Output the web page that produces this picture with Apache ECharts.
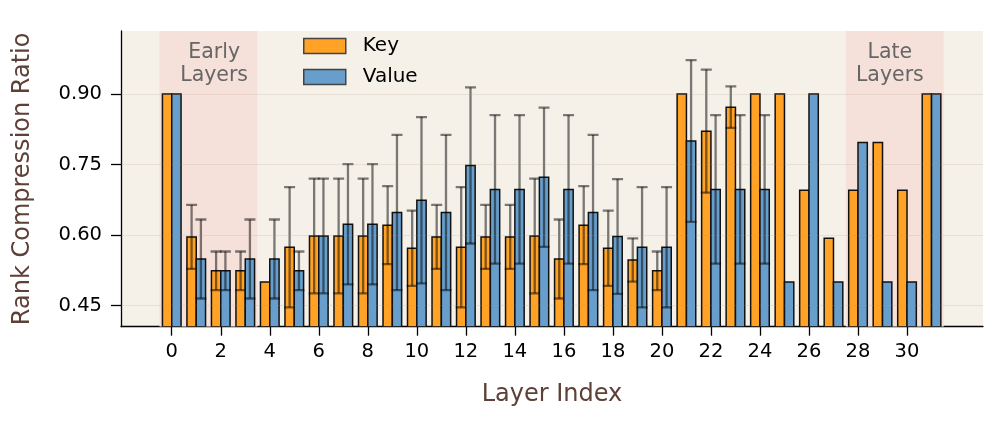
<!DOCTYPE html>
<html><head><meta charset="utf-8">
<script src="https://cdn.jsdelivr.net/npm/echarts@6/dist/echarts.min.js"></script>
<style>html,body{margin:0;padding:0;background:#fff}#c{width:996px;height:422px}</style>
</head><body><div id="c"></div>
<script>
// ---------------- data ----------------
const layers = [0,1,2,3,4,5,6,7,8,9,10,11,12,13,14,15,16,17,18,19,20,21,22,23,24,25,26,27,28,29,30,31];
const keyMean = [0.90,0.596,0.524,0.524,0.50,0.574,0.598,0.598,0.598,0.621,0.572,0.596,0.574,0.596,0.596,0.598,
                 0.549,0.621,0.572,0.547,0.524,0.90,0.821,0.872,0.90,0.90,0.695,0.593,0.695,0.797,0.695,0.90];
const keyStd  = [0,0.068,0.041,0.041,0,0.128,0.122,0.122,0.122,0.083,0.080,0.068,0.128,0.068,0.068,0.122,
                 0.084,0.083,0.080,0.046,0.041,0,0.131,0.044,0,0,0,0,0,0,0,0];
const valueMean = [0.90,0.549,0.524,0.549,0.549,0.524,0.598,0.623,0.623,0.648,0.674,0.648,0.748,0.697,0.697,0.723,
                   0.697,0.648,0.597,0.574,0.574,0.80,0.697,0.697,0.697,0.50,0.90,0.50,0.797,0.50,0.50,0.90];
const valueStd  = [0,0.084,0.041,0.084,0.084,0.041,0.122,0.128,0.128,0.165,0.177,0.165,0.166,0.158,0.158,0.148,
                   0.158,0.165,0.122,0.128,0.128,0.172,0.158,0.158,0.158,0,0,0,0,0,0,0];
const xTicks = [0,2,4,6,8,10,12,14,16,18,20,22,24,26,28,30];
const yTicks = [0.45,0.60,0.75,0.90];
const spanStart = [-0.5, 27.5];
const spanEnd   = [3.5, 31.5];
const spanLabels = ['Early\nLayers', 'Late\nLayers'];
const seriesNames = ['Key','Value'];

// ---------------- style / layout ----------------
const FONT = 'DejaVu Sans';
const X_MIN = -2.07, X_MAX = 33.1, Y_MIN = 0.405, Y_MAX = 1.034;
const BW = 0.38;
const KEY_COLOR = '#FFA226', VALUE_COLOR = '#679ECB';
const labelShift = [0.23, -0.2];

function barRender(side, color){
  return function(params, api){
    const x = api.value(0), m = api.value(1), s = api.value(2);
    const x0 = side < 0 ? x - BW : x;
    const p1 = api.coord([x0, m]);
    const p2 = api.coord([x0 + BW, Y_MIN]);
    const children = [{
      type:'rect',
      shape:{x:p1[0], y:p1[1], width:p2[0]-p1[0], height:p2[1]-p1[1]},
      style:{fill:color, stroke:'#111', lineWidth:1.5}
    }];
    if (s > 0){
      const cx = x0 + BW/2;
      const t = api.coord([cx, m + s]);
      const b = api.coord([cx, m - s]);
      const es = {stroke:'rgba(0,0,0,0.5)', lineWidth:2.3};
      children.push({type:'line', shape:{x1:t[0],y1:t[1],x2:b[0],y2:b[1]}, style:es});
      children.push({type:'line', shape:{x1:t[0]-5.5,y1:t[1],x2:t[0]+5.5,y2:t[1]}, style:es});
      children.push({type:'line', shape:{x1:b[0]-5.5,y1:b[1],x2:b[0]+5.5,y2:b[1]}, style:es});
    }
    return {type:'group', children};
  };
}

function spanRender(params, api){
  const i = params.dataIndex;
  const a = api.coord([api.value(0), Y_MAX]);
  const b = api.coord([api.value(1), Y_MIN]);
  const mid = api.coord([(api.value(0)+api.value(1))/2 + labelShift[i], Y_MAX]);
  return {type:'group', children:[
    {type:'rect', shape:{x:a[0], y:a[1], width:b[0]-a[0], height:b[1]-a[1]},
     style:{fill:'#f6e1da'}},
    {type:'text', x:mid[0], y:mid[1]+33.5,
     style:{text:spanLabels[i], font:'20.5px "DejaVu Sans"', fill:'#666', align:'center',
            verticalAlign:'middle', lineHeight:23}}
  ]};
}

const chart = echarts.init(document.getElementById('c'), null, {renderer:'canvas'});
chart.setOption({
  animation:false,
  backgroundColor:'#ffffff',
  textStyle:{fontFamily:FONT},
  grid:{left:121, right:13, top:31, bottom:95.3, show:true, backgroundColor:'#f5f0e8', borderWidth:0},
  legend:{
    orient:'vertical', left:303, top:36, padding:0, icon:'rect', itemWidth:42, itemHeight:15, itemGap:11,
    textStyle:{fontFamily:FONT, fontSize:20, color:'#000', padding:[0,0,0,12]},
    data:[
      {name:seriesNames[0], itemStyle:{color:KEY_COLOR, borderColor:'#444', borderWidth:1.5}},
      {name:seriesNames[1], itemStyle:{color:VALUE_COLOR, borderColor:'#444', borderWidth:1.5}}
    ]
  },
  xAxis:{
    type:'value', min:X_MIN, max:X_MAX,
    name:'Layer Index', nameLocation:'middle', nameGap:56,
    nameTextStyle:{fontFamily:FONT, fontSize:24, color:'#5d4037'},
    axisLine:{show:true, onZero:false, lineStyle:{color:'#000', width:1.3}},
    axisTick:{show:true, inside:false, length:9, lineStyle:{color:'#000', width:1.3}, customValues:xTicks},
    axisLabel:{show:true, margin:15, fontFamily:FONT, fontSize:19.5, color:'#000', customValues:xTicks,
               formatter:v=>String(v)},
    splitLine:{show:false}
  },
  yAxis:{
    type:'value', min:Y_MIN, max:Y_MAX,
    name:'Rank Compression Ratio', nameLocation:'middle', nameGap:86,
    nameTextStyle:{fontFamily:FONT, fontSize:24, color:'#5d4037'},
    axisLine:{show:true, onZero:false, lineStyle:{color:'#000', width:1.3}},
    axisTick:{show:true, inside:false, length:10, lineStyle:{color:'#000', width:1.3}, customValues:yTicks},
    axisLabel:{show:true, margin:19, fontFamily:FONT, fontSize:19.5, color:'#000', customValues:yTicks,
               formatter:v=>v.toFixed(2)},
    splitLine:{show:false}
  },
  series:[
    {
      type:'custom', name:'spans', z:1, silent:true, clip:true,
      renderItem:spanRender,
      data:spanStart.map((s,i)=>[s, spanEnd[i]]),
      encode:{x:[0,1]},
      markLine:{silent:true, symbol:'none', label:{show:false},
        lineStyle:{color:'rgba(170,150,120,0.18)', width:1, type:'solid'},
        data:yTicks.map(v=>({yAxis:v}))}
    },
    {
      type:'custom', name:seriesNames[0], z:3, clip:true,
      itemStyle:{color:KEY_COLOR},
      renderItem:barRender(-1, KEY_COLOR),
      data:layers.map((l,i)=>[l, keyMean[i], keyStd[i]]),
      encode:{x:0, y:1}
    },
    {
      type:'custom', name:seriesNames[1], z:3, clip:true,
      itemStyle:{color:VALUE_COLOR},
      renderItem:barRender(1, VALUE_COLOR),
      data:layers.map((l,i)=>[l, valueMean[i], valueStd[i]]),
      encode:{x:0, y:1}
    }
  ]
});
</script></body></html>
